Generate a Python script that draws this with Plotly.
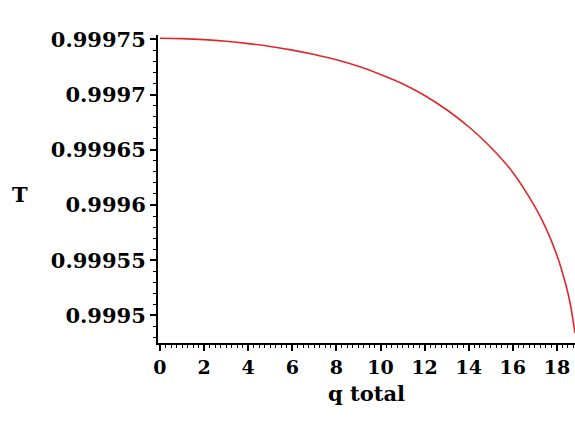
import plotly.graph_objects as go

# Transmission T as a function of total charge q
q_total = [0, 1, 2, 3, 4, 5, 6, 7, 8, 9, 10, 11, 12, 13, 14, 15, 16, 17, 17.5, 18, 18.4, 18.6, 18.82]
T_vals = [0.9997510, 0.9997507, 0.9997498, 0.9997483, 0.9997462, 0.9997436, 0.9997403,
          0.9997363, 0.9997315, 0.9997256, 0.9997183, 0.9997099, 0.9996992, 0.9996863,
          0.9996709, 0.9996523, 0.9996295, 0.9995985, 0.9995790, 0.9995545, 0.9995280,
          0.9995110, 0.9994840]

y_ticks = [0.99975, 0.9997, 0.99965, 0.9996, 0.99955, 0.9995]
y_labels = ["0.99975", "0.9997", "0.99965", "0.9996", "0.99955", "0.9995"]
x_ticks = [0, 2, 4, 6, 8, 10, 12, 14, 16, 18]

font_family = "DejaVu Serif"

fig = go.Figure()
fig.add_trace(go.Scatter(x=q_total, y=T_vals, mode="lines",
                         line=dict(color="#e0282c", width=1.6, shape="spline", smoothing=0.8),
                         showlegend=False, hoverinfo="skip"))

fig.update_layout(
    width=575, height=428,
    margin=dict(l=158, r=0, t=35, b=85),
    paper_bgcolor="white", plot_bgcolor="white",
    font=dict(family=font_family, color="black"),
    xaxis=dict(
        range=[-0.09, 18.82], showgrid=False, zeroline=False,
        showline=True, linecolor="black", linewidth=2,
        tickmode="array", tickvals=x_ticks, ticktext=[str(v) for v in x_ticks],
        ticks="outside", ticklen=6, tickwidth=2, tickcolor="black",
        tickfont=dict(family=font_family, size=19, weight="bold"),
        minor=dict(dtick=0.25, ticks="outside", ticklen=3, tickwidth=1, tickcolor="black"),
        title=dict(text="q total", font=dict(family=font_family, size=21, weight="bold"), standoff=10),
    ),
    yaxis=dict(
        range=[0.999475, 0.999754], showgrid=False, zeroline=False,
        showline=True, linecolor="black", linewidth=2,
        tickmode="array", tickvals=y_ticks, ticktext=y_labels,
        ticks="outside", ticklen=6, tickwidth=2, tickcolor="black",
        tickfont=dict(family=font_family, size=21, weight="bold"),
        minor=dict(dtick=0.00001, tick0=0.9995, ticks="outside", ticklen=3, tickwidth=1, tickcolor="black"),
    ),
    annotations=[dict(text="T", xref="paper", yref="paper",
                      x=(20 - 158) / (575 - 158), y=(428 - 85 - 195) / (428 - 35 - 85),
                      xanchor="center", yanchor="middle", showarrow=False,
                      font=dict(family=font_family, size=21, weight="bold"))],
)

fig.write_html("out.html")
